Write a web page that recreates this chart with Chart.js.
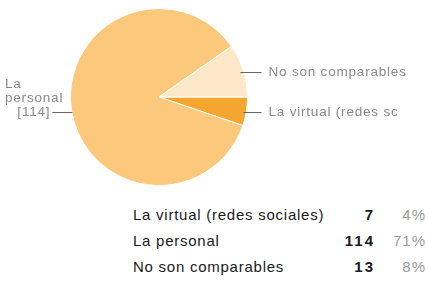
<!DOCTYPE html>
<html>
<head>
<meta charset="utf-8">
<script src="https://cdn.jsdelivr.net/npm/chart.js@4/dist/chart.umd.min.js"></script>
<style>
  body { margin: 0; background: #fff; width: 429px; height: 282px; overflow: hidden; font-family: "Liberation Sans", Arial, sans-serif; }
  #wrap { position: absolute; left: 0; top: 0; width: 429px; height: 196px; }
  #tbl { position: absolute; left: 0; top: 0; width: 429px; }
  .row { position: absolute; left: 0; width: 429px; height: 20px; font-size: 15px; color: #1a1a1a; }
  .row .name { position: absolute; left: 133px; letter-spacing: 0.75px; }
  .row .count { position: absolute; right: 54px; font-weight: bold; letter-spacing: 2px; }
  .row .pct { position: absolute; right: 3px; color: #9a9a9a; letter-spacing: 1px; }
</style>
</head>
<body>
<div id="wrap"><canvas id="chart" width="429" height="196"></canvas></div>
<div id="tbl"></div>
<script>
const categories = ["La virtual (redes sociales)", "La personal", "No son comparables"];
const pieLabels = [["La virtual (redes sc"], ["La", "personal", "[114]"], ["No son comparables"]];
const counts = [7, 114, 13];
const percents = ["4%", "71%", "8%"];
const colors = ["#f4a62e", "#fbc87c", "#fde8c9"];

// table under the pie
const tbl = document.getElementById("tbl");
categories.forEach((c, i) => {
  const row = document.createElement("div");
  row.className = "row";
  row.style.top = (206 + i * 26) + "px";
  row.innerHTML = '<span class="name"></span><span class="count"></span><span class="pct"></span>';
  row.querySelector(".name").textContent = c;
  row.querySelector(".count").textContent = counts[i];
  row.querySelector(".pct").textContent = percents[i];
  tbl.appendChild(row);
});

// labels with short leader lines
const sideLabels = {
  id: "sideLabels",
  afterDraw(chart) {
    const ctx = chart.ctx;
    const meta = chart.getDatasetMeta(0);
    ctx.save();
    ctx.font = "13.5px 'Liberation Sans', Arial, sans-serif";
    ctx.letterSpacing = "0.8px";
    ctx.fillStyle = "#8a8a8a";
    ctx.strokeStyle = "#666";
    ctx.lineWidth = 1;
    meta.data.forEach((arc, i) => {
      const p = arc.getProps(["x", "y", "startAngle", "endAngle", "outerRadius"], true);
      const mid = (p.startAngle + p.endAngle) / 2;
      const ex = p.x + Math.cos(mid) * p.outerRadius;
      const ey = p.y + Math.sin(mid) * p.outerRadius;
      const lines = pieLabels[i];
      if (Math.cos(mid) >= 0) {
        const ly = Math.round(ey + (Math.sin(mid) < 0 ? 2 : 0.5)) + 0.5;
        const right = p.x + p.outerRadius;
        ctx.beginPath();
        ctx.moveTo(ex - 3, ly);
        ctx.lineTo(right + 14, ly);
        ctx.stroke();
        ctx.textAlign = "left";
        ctx.textBaseline = "middle";
        ctx.fillText(lines[0], right + 21, ly);
      } else {
        const ly = Math.round(ey + 2.5) + 0.5;
        ctx.beginPath();
        ctx.moveTo(ex - 19, ly);
        ctx.lineTo(ex + 1, ly);
        ctx.stroke();
        ctx.textBaseline = "middle";
        ctx.textAlign = "right";
        ctx.fillText(lines[2], ex - 21, ly);
        ctx.textAlign = "left";
        ctx.fillText(lines[0], 5, ly - 28);
        ctx.fillText(lines[1], 5, ly - 14);
      }
    });
    ctx.restore();
  }
};

new Chart(document.getElementById("chart"), {
  type: "pie",
  data: {
    labels: categories,
    datasets: [{
      data: counts,
      backgroundColor: colors,
      borderColor: "#fff",
      borderWidth: 1
    }]
  },
  options: {
    responsive: false,
    animation: false,
    rotation: 90,
    layout: { padding: { left: 70, right: 181, top: 8, bottom: 10 } },
    plugins: { legend: { display: false }, tooltip: { enabled: false } }
  },
  plugins: [sideLabels]
});
</script>
</body>
</html>
